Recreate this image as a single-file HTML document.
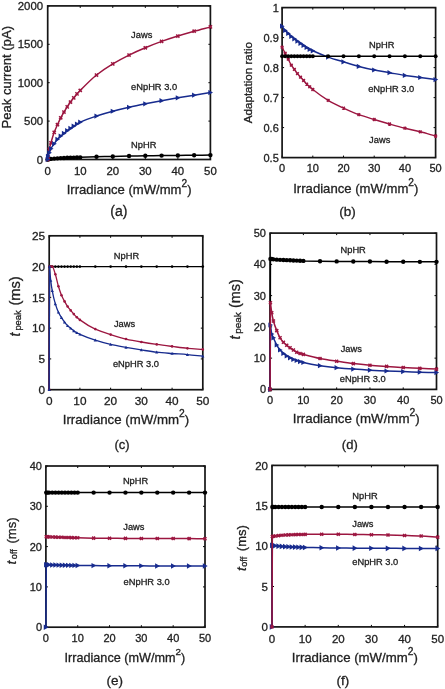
<!DOCTYPE html>
<html><head><meta charset="utf-8"><style>
html,body{margin:0;padding:0;background:#fff;overflow:hidden;}
svg{display:block;filter:blur(0.35px);}
text{font-family:"Liberation Sans", sans-serif;fill:#222;stroke:#222;stroke-width:0.3px;}
</style></head><body>
<svg width="445" height="689" viewBox="0 0 445 689">
<rect width="445" height="689" fill="#fff"/>
<path d="M47.7,159.5 V157.5 M47.7,5.9 V7.9" stroke="#000" stroke-width="1"/>
<path d="M80.24,159.5 V157.5 M80.24,5.9 V7.9" stroke="#000" stroke-width="1"/>
<path d="M112.78,159.5 V157.5 M112.78,5.9 V7.9" stroke="#000" stroke-width="1"/>
<path d="M145.32,159.5 V157.5 M145.32,5.9 V7.9" stroke="#000" stroke-width="1"/>
<path d="M177.86,159.5 V157.5 M177.86,5.9 V7.9" stroke="#000" stroke-width="1"/>
<path d="M210.4,159.5 V157.5 M210.4,5.9 V7.9" stroke="#000" stroke-width="1"/>
<path d="M47.7,159.5 H49.7 M210.4,159.5 H208.4" stroke="#000" stroke-width="1"/>
<path d="M47.7,121.1 H49.7 M210.4,121.1 H208.4" stroke="#000" stroke-width="1"/>
<path d="M47.7,82.7 H49.7 M210.4,82.7 H208.4" stroke="#000" stroke-width="1"/>
<path d="M47.7,44.3 H49.7 M210.4,44.3 H208.4" stroke="#000" stroke-width="1"/>
<path d="M47.7,5.9 H49.7 M210.4,5.9 H208.4" stroke="#000" stroke-width="1"/>
<text x="43.1" y="163.6" text-anchor="end" font-size="11.4">0</text>
<text x="43.1" y="125.2" text-anchor="end" font-size="11.4">500</text>
<text x="43.1" y="86.8" text-anchor="end" font-size="11.4">1000</text>
<text x="43.1" y="48.4" text-anchor="end" font-size="11.4">1500</text>
<text x="43.1" y="10" text-anchor="end" font-size="11.4">2000</text>
<text x="47.7" y="174.8" text-anchor="middle" font-size="11.4">0</text>
<text x="80.24" y="174.8" text-anchor="middle" font-size="11.4">10</text>
<text x="112.78" y="174.8" text-anchor="middle" font-size="11.4">20</text>
<text x="145.32" y="174.8" text-anchor="middle" font-size="11.4">30</text>
<text x="177.86" y="174.8" text-anchor="middle" font-size="11.4">40</text>
<text x="210.4" y="174.8" text-anchor="middle" font-size="11.4">50</text>
<rect x="47.7" y="5.9" width="162.7" height="153.6" fill="none" stroke="#151515" stroke-width="1.7"/>
<path d="M47.7,159.5 L48.03,159.27 C48.46,159.22 48.89,159.17 49.33,159.12 C49.87,159.05 50.41,158.95 50.95,158.89 C52.04,158.76 53.12,158.67 54.21,158.58 C55.29,158.49 56.38,158.42 57.46,158.35 C58.55,158.27 59.63,158.18 60.72,158.12 C61.8,158.06 62.89,158.02 63.97,157.96 C65.05,157.91 66.14,157.86 67.22,157.81 C68.31,157.76 69.39,157.69 70.48,157.66 C71.56,157.62 72.65,157.61 73.73,157.58 C74.82,157.55 75.9,157.46 76.99,157.43 C78.07,157.39 79.16,157.38 80.24,157.35 C85.66,157.21 91.09,156.96 96.51,156.81 C101.93,156.66 107.36,156.56 112.78,156.43 C118.2,156.3 123.63,156.14 129.05,156.04 C134.47,155.95 139.9,155.89 145.32,155.81 C150.74,155.74 156.17,155.64 161.59,155.58 C167.01,155.52 172.44,155.48 177.86,155.43 C183.28,155.38 188.71,155.33 194.13,155.28 C199.55,155.22 204.98,155.17 210.4,155.12" fill="none" stroke="#000" stroke-width="1.5" stroke-linejoin="round"/>
<circle cx="47.7" cy="159.5" r="2.2" fill="#000"/>
<circle cx="48.03" cy="159.27" r="2.2" fill="#000"/>
<circle cx="49.33" cy="159.12" r="2.2" fill="#000"/>
<circle cx="50.95" cy="158.89" r="2.2" fill="#000"/>
<circle cx="54.21" cy="158.58" r="2.2" fill="#000"/>
<circle cx="57.46" cy="158.35" r="2.2" fill="#000"/>
<circle cx="60.72" cy="158.12" r="2.2" fill="#000"/>
<circle cx="63.97" cy="157.96" r="2.2" fill="#000"/>
<circle cx="67.22" cy="157.81" r="2.2" fill="#000"/>
<circle cx="70.48" cy="157.66" r="2.2" fill="#000"/>
<circle cx="73.73" cy="157.58" r="2.2" fill="#000"/>
<circle cx="76.99" cy="157.43" r="2.2" fill="#000"/>
<circle cx="80.24" cy="157.35" r="2.2" fill="#000"/>
<circle cx="96.51" cy="156.81" r="2.2" fill="#000"/>
<circle cx="112.78" cy="156.43" r="2.2" fill="#000"/>
<circle cx="129.05" cy="156.04" r="2.2" fill="#000"/>
<circle cx="145.32" cy="155.81" r="2.2" fill="#000"/>
<circle cx="161.59" cy="155.58" r="2.2" fill="#000"/>
<circle cx="177.86" cy="155.43" r="2.2" fill="#000"/>
<circle cx="194.13" cy="155.28" r="2.2" fill="#000"/>
<circle cx="210.4" cy="155.12" r="2.2" fill="#000"/>
<path d="M47.7,159.5 L48.03,156.81 C48.46,154.28 48.89,151.24 49.33,149.21 C49.87,146.66 50.41,144.85 50.95,142.91 C52.04,139.04 53.12,135.26 54.21,132.31 C55.29,129.36 56.38,127.12 57.46,124.71 C58.55,122.3 59.63,119.89 60.72,117.8 C61.8,115.7 62.89,113.86 63.97,112.04 C65.05,110.21 66.14,108.48 67.22,106.82 C68.31,105.15 69.39,103.55 70.48,102.05 C71.56,100.56 72.65,99.18 73.73,97.83 C74.82,96.47 75.9,95.14 76.99,93.91 C78.07,92.69 79.16,91.56 80.24,90.46 C85.66,84.95 91.09,79.33 96.51,75.02 C101.93,70.71 107.36,67.17 112.78,63.88 C118.2,60.6 123.63,57.72 129.05,55.05 C134.47,52.39 139.9,50.02 145.32,47.76 C150.74,45.49 156.17,43.33 161.59,41.38 C167.01,39.44 172.44,37.69 177.86,36.01 C183.28,34.32 188.71,32.76 194.13,31.24 C199.55,29.72 204.98,28.33 210.4,26.87" fill="none" stroke="#9c1640" stroke-width="1.5" stroke-linejoin="round"/>
<path d="M46.1,157.9 L49.3,161.1 M46.1,161.1 L49.3,157.9" stroke="#9c1640" stroke-width="1.5" fill="none"/>
<path d="M46.43,155.21 L49.63,158.41 M46.43,158.41 L49.63,155.21" stroke="#9c1640" stroke-width="1.5" fill="none"/>
<path d="M47.73,147.61 L50.93,150.81 M47.73,150.81 L50.93,147.61" stroke="#9c1640" stroke-width="1.5" fill="none"/>
<path d="M49.35,141.31 L52.55,144.51 M49.35,144.51 L52.55,141.31" stroke="#9c1640" stroke-width="1.5" fill="none"/>
<path d="M52.61,130.71 L55.81,133.91 M52.61,133.91 L55.81,130.71" stroke="#9c1640" stroke-width="1.5" fill="none"/>
<path d="M55.86,123.11 L59.06,126.31 M55.86,126.31 L59.06,123.11" stroke="#9c1640" stroke-width="1.5" fill="none"/>
<path d="M59.12,116.2 L62.32,119.4 M59.12,119.4 L62.32,116.2" stroke="#9c1640" stroke-width="1.5" fill="none"/>
<path d="M62.37,110.44 L65.57,113.64 M62.37,113.64 L65.57,110.44" stroke="#9c1640" stroke-width="1.5" fill="none"/>
<path d="M65.62,105.22 L68.82,108.42 M65.62,108.42 L68.82,105.22" stroke="#9c1640" stroke-width="1.5" fill="none"/>
<path d="M68.88,100.45 L72.08,103.65 M68.88,103.65 L72.08,100.45" stroke="#9c1640" stroke-width="1.5" fill="none"/>
<path d="M72.13,96.23 L75.33,99.43 M72.13,99.43 L75.33,96.23" stroke="#9c1640" stroke-width="1.5" fill="none"/>
<path d="M75.39,92.31 L78.59,95.51 M75.39,95.51 L78.59,92.31" stroke="#9c1640" stroke-width="1.5" fill="none"/>
<path d="M78.64,88.86 L81.84,92.06 M78.64,92.06 L81.84,88.86" stroke="#9c1640" stroke-width="1.5" fill="none"/>
<path d="M94.91,73.42 L98.11,76.62 M94.91,76.62 L98.11,73.42" stroke="#9c1640" stroke-width="1.5" fill="none"/>
<path d="M111.18,62.28 L114.38,65.48 M111.18,65.48 L114.38,62.28" stroke="#9c1640" stroke-width="1.5" fill="none"/>
<path d="M127.45,53.45 L130.65,56.65 M127.45,56.65 L130.65,53.45" stroke="#9c1640" stroke-width="1.5" fill="none"/>
<path d="M143.72,46.16 L146.92,49.36 M143.72,49.36 L146.92,46.16" stroke="#9c1640" stroke-width="1.5" fill="none"/>
<path d="M159.99,39.78 L163.19,42.98 M159.99,42.98 L163.19,39.78" stroke="#9c1640" stroke-width="1.5" fill="none"/>
<path d="M176.26,34.41 L179.46,37.61 M176.26,37.61 L179.46,34.41" stroke="#9c1640" stroke-width="1.5" fill="none"/>
<path d="M192.53,29.64 L195.73,32.84 M192.53,32.84 L195.73,29.64" stroke="#9c1640" stroke-width="1.5" fill="none"/>
<path d="M208.8,25.27 L212,28.47 M208.8,28.47 L212,25.27" stroke="#9c1640" stroke-width="1.5" fill="none"/>
<path d="M47.7,159.5 L48.03,156.27 C48.46,155.12 48.89,153.95 49.33,152.82 C49.87,151.41 50.41,149.72 50.95,148.67 C52.04,146.57 53.12,145.39 54.21,143.83 C55.29,142.27 56.38,140.56 57.46,139.3 C58.55,138.05 59.63,137.05 60.72,136.08 C61.8,135.1 62.89,134.28 63.97,133.39 C65.05,132.49 66.14,131.51 67.22,130.7 C68.31,129.89 69.39,129.23 70.48,128.47 C71.56,127.72 72.65,126.91 73.73,126.17 C74.82,125.43 75.9,124.68 76.99,124.02 C78.07,123.36 79.16,122.69 80.24,122.18 C85.66,119.6 91.09,117.82 96.51,116.03 C101.93,114.24 107.36,112.72 112.78,111.27 C118.2,109.82 123.63,108.51 129.05,107.28 C134.47,106.04 139.9,104.92 145.32,103.82 C150.74,102.72 156.17,101.67 161.59,100.67 C167.01,99.68 172.44,98.75 177.86,97.83 C183.28,96.91 188.71,96.02 194.13,95.14 C199.55,94.26 204.98,93.4 210.4,92.53" fill="none" stroke="#172b8e" stroke-width="1.5" stroke-linejoin="round"/>
<path d="M50.3,159.5 L45.62,156.9 L45.62,162.1 Z" fill="#172b8e"/>
<path d="M50.63,156.27 L45.95,153.67 L45.95,158.87 Z" fill="#172b8e"/>
<path d="M51.93,152.82 L47.25,150.22 L47.25,155.42 Z" fill="#172b8e"/>
<path d="M53.55,148.67 L48.87,146.07 L48.87,151.27 Z" fill="#172b8e"/>
<path d="M56.81,143.83 L52.13,141.23 L52.13,146.43 Z" fill="#172b8e"/>
<path d="M60.06,139.3 L55.38,136.7 L55.38,141.9 Z" fill="#172b8e"/>
<path d="M63.32,136.08 L58.64,133.48 L58.64,138.68 Z" fill="#172b8e"/>
<path d="M66.57,133.39 L61.89,130.79 L61.89,135.99 Z" fill="#172b8e"/>
<path d="M69.82,130.7 L65.14,128.1 L65.14,133.3 Z" fill="#172b8e"/>
<path d="M73.08,128.47 L68.4,125.87 L68.4,131.07 Z" fill="#172b8e"/>
<path d="M76.33,126.17 L71.65,123.57 L71.65,128.77 Z" fill="#172b8e"/>
<path d="M79.59,124.02 L74.91,121.42 L74.91,126.62 Z" fill="#172b8e"/>
<path d="M82.84,122.18 L78.16,119.58 L78.16,124.78 Z" fill="#172b8e"/>
<path d="M99.11,116.03 L94.43,113.43 L94.43,118.63 Z" fill="#172b8e"/>
<path d="M115.38,111.27 L110.7,108.67 L110.7,113.87 Z" fill="#172b8e"/>
<path d="M131.65,107.28 L126.97,104.68 L126.97,109.88 Z" fill="#172b8e"/>
<path d="M147.92,103.82 L143.24,101.22 L143.24,106.42 Z" fill="#172b8e"/>
<path d="M164.19,100.67 L159.51,98.07 L159.51,103.27 Z" fill="#172b8e"/>
<path d="M180.46,97.83 L175.78,95.23 L175.78,100.43 Z" fill="#172b8e"/>
<path d="M196.73,95.14 L192.05,92.54 L192.05,97.74 Z" fill="#172b8e"/>
<path d="M213,92.53 L208.32,89.93 L208.32,95.13 Z" fill="#172b8e"/>
<text x="131.1" y="38" font-size="9.3" text-anchor="start">Jaws</text>
<text x="131.1" y="90.1" font-size="9.3" text-anchor="start">eNpHR 3.0</text>
<text x="131.1" y="147.8" font-size="9.3" text-anchor="start">NpHR</text>
<text x="66.73" y="193.7" font-size="13" textLength="124.78" lengthAdjust="spacingAndGlyphs">Irradiance (mW/mm<tspan font-size="10.1" dy="-7.0">2</tspan><tspan dy="7.0">)</tspan></text>
<text x="118.9" y="216.3" font-size="14" text-anchor="middle">(a)</text>
<text transform="translate(11.1,128.6) rotate(-90)" font-size="13" textLength="102.6" lengthAdjust="spacingAndGlyphs" text-anchor="start">Peak current (pA)</text>
<path d="M282.1,157.6 V155.6 M282.1,7.6 V9.6" stroke="#000" stroke-width="1"/>
<path d="M312.8,157.6 V155.6 M312.8,7.6 V9.6" stroke="#000" stroke-width="1"/>
<path d="M343.5,157.6 V155.6 M343.5,7.6 V9.6" stroke="#000" stroke-width="1"/>
<path d="M374.2,157.6 V155.6 M374.2,7.6 V9.6" stroke="#000" stroke-width="1"/>
<path d="M404.9,157.6 V155.6 M404.9,7.6 V9.6" stroke="#000" stroke-width="1"/>
<path d="M435.6,157.6 V155.6 M435.6,7.6 V9.6" stroke="#000" stroke-width="1"/>
<path d="M282.1,157.6 H284.1 M435.6,157.6 H433.6" stroke="#000" stroke-width="1"/>
<path d="M282.1,127.6 H284.1 M435.6,127.6 H433.6" stroke="#000" stroke-width="1"/>
<path d="M282.1,97.6 H284.1 M435.6,97.6 H433.6" stroke="#000" stroke-width="1"/>
<path d="M282.1,67.6 H284.1 M435.6,67.6 H433.6" stroke="#000" stroke-width="1"/>
<path d="M282.1,37.6 H284.1 M435.6,37.6 H433.6" stroke="#000" stroke-width="1"/>
<path d="M282.1,7.6 H284.1 M435.6,7.6 H433.6" stroke="#000" stroke-width="1"/>
<text x="278.8" y="161.56" text-anchor="end" font-size="11">0.5</text>
<text x="278.8" y="131.56" text-anchor="end" font-size="11">0.6</text>
<text x="278.8" y="101.56" text-anchor="end" font-size="11">0.7</text>
<text x="278.8" y="71.56" text-anchor="end" font-size="11">0.8</text>
<text x="278.8" y="41.56" text-anchor="end" font-size="11">0.9</text>
<text x="278.8" y="11.56" text-anchor="end" font-size="11">1</text>
<text x="282.1" y="172" text-anchor="middle" font-size="11">0</text>
<text x="312.8" y="172" text-anchor="middle" font-size="11">10</text>
<text x="343.5" y="172" text-anchor="middle" font-size="11">20</text>
<text x="374.2" y="172" text-anchor="middle" font-size="11">30</text>
<text x="404.9" y="172" text-anchor="middle" font-size="11">40</text>
<text x="435.6" y="172" text-anchor="middle" font-size="11">50</text>
<rect x="282.1" y="7.6" width="153.5" height="150" fill="none" stroke="#151515" stroke-width="1.7"/>
<path d="M282.1,26.2 C283.12,27.6 284.15,29.23 285.17,30.4 C286.19,31.57 287.22,32.4 288.24,33.4 C289.26,34.4 290.29,35.51 291.31,36.4 C292.33,37.29 293.36,38 294.38,38.8 C295.4,39.6 296.43,40.45 297.45,41.2 C298.47,41.95 299.5,42.6 300.52,43.3 C301.54,44 302.57,44.7 303.59,45.4 C304.61,46.1 305.64,46.85 306.66,47.5 C307.68,48.15 308.71,48.75 309.73,49.3 C310.75,49.85 311.78,50.33 312.8,50.8 C317.92,53.13 323.03,55.28 328.15,57.1 C333.27,58.92 338.38,60.35 343.5,61.9 C348.62,63.45 353.73,65.07 358.85,66.4 C363.97,67.73 369.08,68.97 374.2,70 C379.32,71.03 384.43,71.8 389.55,72.7 C394.67,73.6 399.78,74.61 404.9,75.4 C410.02,76.19 415.13,76.8 420.25,77.5 C425.37,78.2 430.48,78.9 435.6,79.6" fill="none" stroke="#172b8e" stroke-width="1.5" stroke-linejoin="round"/>
<path d="M284.7,26.2 L280.02,23.6 L280.02,28.8 Z" fill="#172b8e"/>
<path d="M287.77,30.4 L283.09,27.8 L283.09,33 Z" fill="#172b8e"/>
<path d="M290.84,33.4 L286.16,30.8 L286.16,36 Z" fill="#172b8e"/>
<path d="M293.91,36.4 L289.23,33.8 L289.23,39 Z" fill="#172b8e"/>
<path d="M296.98,38.8 L292.3,36.2 L292.3,41.4 Z" fill="#172b8e"/>
<path d="M300.05,41.2 L295.37,38.6 L295.37,43.8 Z" fill="#172b8e"/>
<path d="M303.12,43.3 L298.44,40.7 L298.44,45.9 Z" fill="#172b8e"/>
<path d="M306.19,45.4 L301.51,42.8 L301.51,48 Z" fill="#172b8e"/>
<path d="M309.26,47.5 L304.58,44.9 L304.58,50.1 Z" fill="#172b8e"/>
<path d="M312.33,49.3 L307.65,46.7 L307.65,51.9 Z" fill="#172b8e"/>
<path d="M315.4,50.8 L310.72,48.2 L310.72,53.4 Z" fill="#172b8e"/>
<path d="M330.75,57.1 L326.07,54.5 L326.07,59.7 Z" fill="#172b8e"/>
<path d="M346.1,61.9 L341.42,59.3 L341.42,64.5 Z" fill="#172b8e"/>
<path d="M361.45,66.4 L356.77,63.8 L356.77,69 Z" fill="#172b8e"/>
<path d="M376.8,70 L372.12,67.4 L372.12,72.6 Z" fill="#172b8e"/>
<path d="M392.15,72.7 L387.47,70.1 L387.47,75.3 Z" fill="#172b8e"/>
<path d="M407.5,75.4 L402.82,72.8 L402.82,78 Z" fill="#172b8e"/>
<path d="M422.85,77.5 L418.17,74.9 L418.17,80.1 Z" fill="#172b8e"/>
<path d="M438.2,79.6 L433.52,77 L433.52,82.2 Z" fill="#172b8e"/>
<path d="M282.1,47.2 C283.12,49.2 284.15,51.2 285.17,53.2 C286.19,55.2 287.22,57.2 288.24,59.2 C289.26,61.2 290.29,63.55 291.31,65.2 C292.33,66.85 293.36,68 294.38,69.4 C295.4,70.8 296.43,72.31 297.45,73.6 C298.47,74.89 299.5,76.05 300.52,77.2 C301.54,78.35 302.57,79.35 303.59,80.5 C304.61,81.65 305.64,83.07 306.66,84.1 C307.68,85.13 308.71,85.9 309.73,86.8 C310.75,87.7 311.78,88.68 312.8,89.5 C317.92,93.6 323.03,97.28 328.15,100.3 C333.27,103.32 338.38,105.72 343.5,108.1 C348.62,110.48 353.73,112.85 358.85,114.7 C363.97,116.55 369.08,117.95 374.2,119.5 C379.32,121.05 384.43,122.55 389.55,124 C394.67,125.45 399.78,126.91 404.9,128.2 C410.02,129.49 415.13,130.51 420.25,131.8 C425.37,133.09 430.48,134.6 435.6,136" fill="none" stroke="#9c1640" stroke-width="1.4" stroke-linejoin="round"/>
<path d="M280.75,45.85 L283.45,48.55 M280.75,48.55 L283.45,45.85" stroke="#9c1640" stroke-width="1.5" fill="none"/>
<path d="M283.82,51.85 L286.52,54.55 M283.82,54.55 L286.52,51.85" stroke="#9c1640" stroke-width="1.5" fill="none"/>
<path d="M286.89,57.85 L289.59,60.55 M286.89,60.55 L289.59,57.85" stroke="#9c1640" stroke-width="1.5" fill="none"/>
<path d="M289.96,63.85 L292.66,66.55 M289.96,66.55 L292.66,63.85" stroke="#9c1640" stroke-width="1.5" fill="none"/>
<path d="M293.03,68.05 L295.73,70.75 M293.03,70.75 L295.73,68.05" stroke="#9c1640" stroke-width="1.5" fill="none"/>
<path d="M296.1,72.25 L298.8,74.95 M296.1,74.95 L298.8,72.25" stroke="#9c1640" stroke-width="1.5" fill="none"/>
<path d="M299.17,75.85 L301.87,78.55 M299.17,78.55 L301.87,75.85" stroke="#9c1640" stroke-width="1.5" fill="none"/>
<path d="M302.24,79.15 L304.94,81.85 M302.24,81.85 L304.94,79.15" stroke="#9c1640" stroke-width="1.5" fill="none"/>
<path d="M305.31,82.75 L308.01,85.45 M305.31,85.45 L308.01,82.75" stroke="#9c1640" stroke-width="1.5" fill="none"/>
<path d="M308.38,85.45 L311.08,88.15 M308.38,88.15 L311.08,85.45" stroke="#9c1640" stroke-width="1.5" fill="none"/>
<path d="M311.45,88.15 L314.15,90.85 M311.45,90.85 L314.15,88.15" stroke="#9c1640" stroke-width="1.5" fill="none"/>
<path d="M326.8,98.95 L329.5,101.65 M326.8,101.65 L329.5,98.95" stroke="#9c1640" stroke-width="1.5" fill="none"/>
<path d="M342.15,106.75 L344.85,109.45 M342.15,109.45 L344.85,106.75" stroke="#9c1640" stroke-width="1.5" fill="none"/>
<path d="M357.5,113.35 L360.2,116.05 M357.5,116.05 L360.2,113.35" stroke="#9c1640" stroke-width="1.5" fill="none"/>
<path d="M372.85,118.15 L375.55,120.85 M372.85,120.85 L375.55,118.15" stroke="#9c1640" stroke-width="1.5" fill="none"/>
<path d="M388.2,122.65 L390.9,125.35 M388.2,125.35 L390.9,122.65" stroke="#9c1640" stroke-width="1.5" fill="none"/>
<path d="M403.55,126.85 L406.25,129.55 M403.55,129.55 L406.25,126.85" stroke="#9c1640" stroke-width="1.5" fill="none"/>
<path d="M418.9,130.45 L421.6,133.15 M418.9,133.15 L421.6,130.45" stroke="#9c1640" stroke-width="1.5" fill="none"/>
<path d="M434.25,134.65 L436.95,137.35 M434.25,137.35 L436.95,134.65" stroke="#9c1640" stroke-width="1.5" fill="none"/>
<path d="M282.1,56.2 C283.12,56.2 284.15,56.2 285.17,56.2 C286.19,56.2 287.22,56.2 288.24,56.2 C289.26,56.2 290.29,56.2 291.31,56.2 C292.33,56.2 293.36,56.2 294.38,56.2 C295.4,56.2 296.43,56.2 297.45,56.2 C298.47,56.2 299.5,56.2 300.52,56.2 C301.54,56.2 302.57,56.2 303.59,56.2 C304.61,56.2 305.64,56.2 306.66,56.2 C307.68,56.2 308.71,56.2 309.73,56.2 C310.75,56.2 311.78,56.2 312.8,56.2 C317.92,56.2 323.03,56.2 328.15,56.2 C333.27,56.2 338.38,56.2 343.5,56.2 C348.62,56.2 353.73,56.2 358.85,56.2 C363.97,56.2 369.08,56.2 374.2,56.2 C379.32,56.2 384.43,56.2 389.55,56.2 C394.67,56.2 399.78,56.2 404.9,56.2 C410.02,56.2 415.13,56.2 420.25,56.2 C425.37,56.2 430.48,56.2 435.6,56.2" fill="none" stroke="#000" stroke-width="1.5" stroke-linejoin="round"/>
<circle cx="282.1" cy="56.2" r="2.0" fill="#000"/>
<circle cx="285.17" cy="56.2" r="2.0" fill="#000"/>
<circle cx="288.24" cy="56.2" r="2.0" fill="#000"/>
<circle cx="291.31" cy="56.2" r="2.0" fill="#000"/>
<circle cx="294.38" cy="56.2" r="2.0" fill="#000"/>
<circle cx="297.45" cy="56.2" r="2.0" fill="#000"/>
<circle cx="300.52" cy="56.2" r="2.0" fill="#000"/>
<circle cx="303.59" cy="56.2" r="2.0" fill="#000"/>
<circle cx="306.66" cy="56.2" r="2.0" fill="#000"/>
<circle cx="309.73" cy="56.2" r="2.0" fill="#000"/>
<circle cx="312.8" cy="56.2" r="2.0" fill="#000"/>
<circle cx="328.15" cy="56.2" r="2.0" fill="#000"/>
<circle cx="343.5" cy="56.2" r="2.0" fill="#000"/>
<circle cx="358.85" cy="56.2" r="2.0" fill="#000"/>
<circle cx="374.2" cy="56.2" r="2.0" fill="#000"/>
<circle cx="389.55" cy="56.2" r="2.0" fill="#000"/>
<circle cx="404.9" cy="56.2" r="2.0" fill="#000"/>
<circle cx="420.25" cy="56.2" r="2.0" fill="#000"/>
<circle cx="435.6" cy="56.2" r="2.0" fill="#000"/>
<text x="369.1" y="48.3" font-size="9.3" text-anchor="start">NpHR</text>
<text x="368.2" y="92.3" font-size="9.3" text-anchor="start">eNpHR 3.0</text>
<text x="369.1" y="142.5" font-size="9.3" text-anchor="start">Jaws</text>
<text x="293.23" y="193.1" font-size="13" textLength="125.18" lengthAdjust="spacingAndGlyphs">Irradiance (mW/mm<tspan font-size="10.1" dy="-7.0">2</tspan><tspan dy="7.0">)</tspan></text>
<text x="347.5" y="216" font-size="13.5" text-anchor="middle">(b)</text>
<text transform="translate(252.4,123.2) rotate(-90)" font-size="11.6">Adaptation ratio</text>
<path d="M49.2,389.7 V387.7 M49.2,235.8 V237.8" stroke="#000" stroke-width="1"/>
<path d="M79.92,389.7 V387.7 M79.92,235.8 V237.8" stroke="#000" stroke-width="1"/>
<path d="M110.64,389.7 V387.7 M110.64,235.8 V237.8" stroke="#000" stroke-width="1"/>
<path d="M141.36,389.7 V387.7 M141.36,235.8 V237.8" stroke="#000" stroke-width="1"/>
<path d="M172.08,389.7 V387.7 M172.08,235.8 V237.8" stroke="#000" stroke-width="1"/>
<path d="M202.8,389.7 V387.7 M202.8,235.8 V237.8" stroke="#000" stroke-width="1"/>
<path d="M49.2,389.7 H51.2 M202.8,389.7 H200.8" stroke="#000" stroke-width="1"/>
<path d="M49.2,358.92 H51.2 M202.8,358.92 H200.8" stroke="#000" stroke-width="1"/>
<path d="M49.2,328.14 H51.2 M202.8,328.14 H200.8" stroke="#000" stroke-width="1"/>
<path d="M49.2,297.36 H51.2 M202.8,297.36 H200.8" stroke="#000" stroke-width="1"/>
<path d="M49.2,266.58 H51.2 M202.8,266.58 H200.8" stroke="#000" stroke-width="1"/>
<path d="M49.2,235.8 H51.2 M202.8,235.8 H200.8" stroke="#000" stroke-width="1"/>
<text x="45" y="393.95" text-anchor="end" font-size="11.8">0</text>
<text x="45" y="363.17" text-anchor="end" font-size="11.8">5</text>
<text x="45" y="332.39" text-anchor="end" font-size="11.8">10</text>
<text x="45" y="301.61" text-anchor="end" font-size="11.8">15</text>
<text x="45" y="270.83" text-anchor="end" font-size="11.8">20</text>
<text x="45" y="240.05" text-anchor="end" font-size="11.8">25</text>
<text x="49.2" y="405.2" text-anchor="middle" font-size="11.8">0</text>
<text x="79.92" y="405.2" text-anchor="middle" font-size="11.8">10</text>
<text x="110.64" y="405.2" text-anchor="middle" font-size="11.8">20</text>
<text x="141.36" y="405.2" text-anchor="middle" font-size="11.8">30</text>
<text x="172.08" y="405.2" text-anchor="middle" font-size="11.8">40</text>
<text x="202.8" y="405.2" text-anchor="middle" font-size="11.8">50</text>
<rect x="49.2" y="235.8" width="153.6" height="153.9" fill="none" stroke="#151515" stroke-width="1.7"/>
<path d="M49.2,389.7 L49.51,266.58 L50.74,266.58 L52.27,266.58 L55.34,266.58 L58.42,266.58 L61.49,266.58 L64.56,266.58 L67.63,266.58 L70.7,266.58 L73.78,266.58 L76.85,266.58 L79.92,266.58 L95.28,266.58 L110.64,266.58 L126,266.58 L141.36,266.58 L156.72,266.58 L172.08,266.58 L187.44,266.58 L202.8,266.58" fill="none" stroke="#000" stroke-width="1.3" stroke-linejoin="round"/>
<circle cx="49.2" cy="389.7" r="1.3" fill="#000"/>
<circle cx="49.51" cy="266.58" r="1.3" fill="#000"/>
<circle cx="50.74" cy="266.58" r="1.3" fill="#000"/>
<circle cx="52.27" cy="266.58" r="1.3" fill="#000"/>
<circle cx="55.34" cy="266.58" r="1.3" fill="#000"/>
<circle cx="58.42" cy="266.58" r="1.3" fill="#000"/>
<circle cx="61.49" cy="266.58" r="1.3" fill="#000"/>
<circle cx="64.56" cy="266.58" r="1.3" fill="#000"/>
<circle cx="67.63" cy="266.58" r="1.3" fill="#000"/>
<circle cx="70.7" cy="266.58" r="1.3" fill="#000"/>
<circle cx="73.78" cy="266.58" r="1.3" fill="#000"/>
<circle cx="76.85" cy="266.58" r="1.3" fill="#000"/>
<circle cx="79.92" cy="266.58" r="1.3" fill="#000"/>
<circle cx="95.28" cy="266.58" r="1.3" fill="#000"/>
<circle cx="110.64" cy="266.58" r="1.3" fill="#000"/>
<circle cx="126" cy="266.58" r="1.3" fill="#000"/>
<circle cx="141.36" cy="266.58" r="1.3" fill="#000"/>
<circle cx="156.72" cy="266.58" r="1.3" fill="#000"/>
<circle cx="172.08" cy="266.58" r="1.3" fill="#000"/>
<circle cx="187.44" cy="266.58" r="1.3" fill="#000"/>
<circle cx="202.8" cy="266.58" r="1.3" fill="#000"/>
<path d="M49.2,389.7 L49.51,266.58 C49.92,266.58 50.33,266.58 50.74,266.58 C51.25,266.58 51.76,266.58 52.27,266.58 C53.3,266.58 54.32,271.15 55.34,274.27 C56.37,277.4 57.39,282.87 58.42,286.28 C59.44,289.69 60.46,292.76 61.49,295.21 C62.51,297.65 63.54,299.55 64.56,301.42 C65.58,303.29 66.61,305.06 67.63,306.53 C68.66,308 69.68,309.15 70.7,310.41 C71.73,311.67 72.75,312.96 73.78,314.1 C74.8,315.25 75.82,316.35 76.85,317.31 C77.87,318.26 78.9,319.15 79.92,319.89 C85.04,323.62 90.16,326.83 95.28,329.12 C100.4,331.42 105.52,332.97 110.64,334.6 C115.76,336.24 120.88,337.85 126,339.04 C131.12,340.22 136.24,341.11 141.36,341.99 C146.48,342.87 151.6,343.66 156.72,344.39 C161.84,345.13 166.96,345.77 172.08,346.42 C177.2,347.08 182.32,347.88 187.44,348.33 C192.56,348.78 197.68,349.03 202.8,349.38" fill="none" stroke="#9c1640" stroke-width="1.3" stroke-linejoin="round"/>
<circle cx="49.2" cy="389.7" r="1.3" fill="#9c1640"/>
<circle cx="49.51" cy="266.58" r="1.3" fill="#9c1640"/>
<circle cx="50.74" cy="266.58" r="1.3" fill="#9c1640"/>
<circle cx="52.27" cy="266.58" r="1.3" fill="#9c1640"/>
<circle cx="55.34" cy="274.27" r="1.3" fill="#9c1640"/>
<circle cx="58.42" cy="286.28" r="1.3" fill="#9c1640"/>
<circle cx="61.49" cy="295.21" r="1.3" fill="#9c1640"/>
<circle cx="64.56" cy="301.42" r="1.3" fill="#9c1640"/>
<circle cx="67.63" cy="306.53" r="1.3" fill="#9c1640"/>
<circle cx="70.7" cy="310.41" r="1.3" fill="#9c1640"/>
<circle cx="73.78" cy="314.1" r="1.3" fill="#9c1640"/>
<circle cx="76.85" cy="317.31" r="1.3" fill="#9c1640"/>
<circle cx="79.92" cy="319.89" r="1.3" fill="#9c1640"/>
<circle cx="95.28" cy="329.12" r="1.3" fill="#9c1640"/>
<circle cx="110.64" cy="334.6" r="1.3" fill="#9c1640"/>
<circle cx="126" cy="339.04" r="1.3" fill="#9c1640"/>
<circle cx="141.36" cy="341.99" r="1.3" fill="#9c1640"/>
<circle cx="156.72" cy="344.39" r="1.3" fill="#9c1640"/>
<circle cx="172.08" cy="346.42" r="1.3" fill="#9c1640"/>
<circle cx="187.44" cy="348.33" r="1.3" fill="#9c1640"/>
<circle cx="202.8" cy="349.38" r="1.3" fill="#9c1640"/>
<path d="M49.2,389.7 L49.51,266.58 C49.92,271.24 50.33,277.08 50.74,280.55 C51.25,284.89 51.76,288.04 52.27,290.77 C53.3,296.23 54.32,300.46 55.34,303.89 C56.37,307.31 57.39,310.14 58.42,312.32 C59.44,314.5 60.46,316.06 61.49,317.67 C62.51,319.29 63.54,320.78 64.56,322.11 C65.58,323.44 66.61,324.73 67.63,325.74 C68.66,326.75 69.68,327.47 70.7,328.32 C71.73,329.18 72.75,330.12 73.78,330.85 C74.8,331.57 75.82,332.19 76.85,332.76 C77.87,333.32 78.9,333.84 79.92,334.3 C85.04,336.58 90.16,338.49 95.28,340.14 C100.4,341.8 105.52,343.3 110.64,344.45 C115.76,345.61 120.88,346.44 126,347.35 C131.12,348.26 136.24,349.12 141.36,349.93 C146.48,350.74 151.6,351.66 156.72,352.21 C161.84,352.76 166.96,353.1 172.08,353.5 C177.2,353.9 182.32,354.17 187.44,354.61 C192.56,355.05 197.68,355.68 202.8,356.21" fill="none" stroke="#172b8e" stroke-width="1.3" stroke-linejoin="round"/>
<path d="M49.2,388.1 L47.6,390.98 L50.8,390.98 Z" fill="#172b8e"/>
<path d="M49.51,264.98 L47.91,267.86 L51.11,267.86 Z" fill="#172b8e"/>
<path d="M50.74,278.95 L49.14,281.83 L52.34,281.83 Z" fill="#172b8e"/>
<path d="M52.27,289.17 L50.67,292.05 L53.87,292.05 Z" fill="#172b8e"/>
<path d="M55.34,302.29 L53.74,305.17 L56.94,305.17 Z" fill="#172b8e"/>
<path d="M58.42,310.72 L56.82,313.6 L60.02,313.6 Z" fill="#172b8e"/>
<path d="M61.49,316.07 L59.89,318.95 L63.09,318.95 Z" fill="#172b8e"/>
<path d="M64.56,320.51 L62.96,323.39 L66.16,323.39 Z" fill="#172b8e"/>
<path d="M67.63,324.14 L66.03,327.02 L69.23,327.02 Z" fill="#172b8e"/>
<path d="M70.7,326.72 L69.1,329.6 L72.3,329.6 Z" fill="#172b8e"/>
<path d="M73.78,329.25 L72.18,332.13 L75.38,332.13 Z" fill="#172b8e"/>
<path d="M76.85,331.16 L75.25,334.04 L78.45,334.04 Z" fill="#172b8e"/>
<path d="M79.92,332.7 L78.32,335.58 L81.52,335.58 Z" fill="#172b8e"/>
<path d="M95.28,338.54 L93.68,341.42 L96.88,341.42 Z" fill="#172b8e"/>
<path d="M110.64,342.85 L109.04,345.73 L112.24,345.73 Z" fill="#172b8e"/>
<path d="M126,345.75 L124.4,348.63 L127.6,348.63 Z" fill="#172b8e"/>
<path d="M141.36,348.33 L139.76,351.21 L142.96,351.21 Z" fill="#172b8e"/>
<path d="M156.72,350.61 L155.12,353.49 L158.32,353.49 Z" fill="#172b8e"/>
<path d="M172.08,351.9 L170.48,354.78 L173.68,354.78 Z" fill="#172b8e"/>
<path d="M187.44,353.01 L185.84,355.89 L189.04,355.89 Z" fill="#172b8e"/>
<path d="M202.8,354.61 L201.2,357.49 L204.4,357.49 Z" fill="#172b8e"/>
<text x="113.8" y="258.9" font-size="9.3" text-anchor="start">NpHR</text>
<text x="113.9" y="327.3" font-size="9.3" text-anchor="start">Jaws</text>
<text x="112.9" y="366.5" font-size="9.3" text-anchor="start">eNpHR 3.0</text>
<text x="62.73" y="423.9" font-size="13" textLength="126.38" lengthAdjust="spacingAndGlyphs">Irradiance (mW/mm<tspan font-size="10.1" dy="-7.0">2</tspan><tspan dy="7.0">)</tspan></text>
<text x="122.1" y="448.7" font-size="13" text-anchor="middle">(c)</text>
<text transform="translate(20.3,336.4) rotate(-90)" font-size="14" font-style="italic" text-anchor="start">t</text>
<text transform="translate(21.1,330.6) rotate(-90)" font-size="9.5" textLength="20.3" lengthAdjust="spacingAndGlyphs" text-anchor="start">peak</text>
<text transform="translate(20.3,305.6) rotate(-90)" font-size="14" textLength="29.3" lengthAdjust="spacingAndGlyphs" text-anchor="start">(ms)</text>
<path d="M270.1,389.4 V387.4 M270.1,233.1 V235.1" stroke="#000" stroke-width="1"/>
<path d="M303.38,389.4 V387.4 M303.38,233.1 V235.1" stroke="#000" stroke-width="1"/>
<path d="M336.66,389.4 V387.4 M336.66,233.1 V235.1" stroke="#000" stroke-width="1"/>
<path d="M369.94,389.4 V387.4 M369.94,233.1 V235.1" stroke="#000" stroke-width="1"/>
<path d="M403.22,389.4 V387.4 M403.22,233.1 V235.1" stroke="#000" stroke-width="1"/>
<path d="M436.5,389.4 V387.4 M436.5,233.1 V235.1" stroke="#000" stroke-width="1"/>
<path d="M270.1,389.4 H272.1 M436.5,389.4 H434.5" stroke="#000" stroke-width="1"/>
<path d="M270.1,358.14 H272.1 M436.5,358.14 H434.5" stroke="#000" stroke-width="1"/>
<path d="M270.1,326.88 H272.1 M436.5,326.88 H434.5" stroke="#000" stroke-width="1"/>
<path d="M270.1,295.62 H272.1 M436.5,295.62 H434.5" stroke="#000" stroke-width="1"/>
<path d="M270.1,264.36 H272.1 M436.5,264.36 H434.5" stroke="#000" stroke-width="1"/>
<path d="M270.1,233.1 H272.1 M436.5,233.1 H434.5" stroke="#000" stroke-width="1"/>
<text x="266" y="393.36" text-anchor="end" font-size="11">0</text>
<text x="266" y="362.1" text-anchor="end" font-size="11">10</text>
<text x="266" y="330.84" text-anchor="end" font-size="11">20</text>
<text x="266" y="299.58" text-anchor="end" font-size="11">30</text>
<text x="266" y="268.32" text-anchor="end" font-size="11">40</text>
<text x="266" y="237.06" text-anchor="end" font-size="11">50</text>
<text x="270.1" y="404" text-anchor="middle" font-size="11">0</text>
<text x="303.38" y="404" text-anchor="middle" font-size="11">10</text>
<text x="336.66" y="404" text-anchor="middle" font-size="11">20</text>
<text x="369.94" y="404" text-anchor="middle" font-size="11">30</text>
<text x="403.22" y="404" text-anchor="middle" font-size="11">40</text>
<text x="436.5" y="404" text-anchor="middle" font-size="11">50</text>
<rect x="270.1" y="233.1" width="166.4" height="156.3" fill="none" stroke="#151515" stroke-width="1.7"/>
<path d="M270.1,389.4 L270.43,258.89 L271.76,259.05 L273.43,259.36 L276.76,259.67 L280.08,259.83 L283.41,259.98 L286.74,260.14 L290.07,260.3 L293.4,260.45 L296.72,260.61 L300.05,260.77 L303.38,260.92 L320.02,261.23 L336.66,261.39 L353.3,261.55 L369.94,261.55 L386.58,261.7 L403.22,261.7 L419.86,261.86 L436.5,261.86" fill="none" stroke="#000" stroke-width="1.5" stroke-linejoin="round"/>
<circle cx="270.1" cy="389.4" r="2.2" fill="#000"/>
<circle cx="270.43" cy="258.89" r="2.2" fill="#000"/>
<circle cx="271.76" cy="259.05" r="2.2" fill="#000"/>
<circle cx="273.43" cy="259.36" r="2.2" fill="#000"/>
<circle cx="276.76" cy="259.67" r="2.2" fill="#000"/>
<circle cx="280.08" cy="259.83" r="2.2" fill="#000"/>
<circle cx="283.41" cy="259.98" r="2.2" fill="#000"/>
<circle cx="286.74" cy="260.14" r="2.2" fill="#000"/>
<circle cx="290.07" cy="260.3" r="2.2" fill="#000"/>
<circle cx="293.4" cy="260.45" r="2.2" fill="#000"/>
<circle cx="296.72" cy="260.61" r="2.2" fill="#000"/>
<circle cx="300.05" cy="260.77" r="2.2" fill="#000"/>
<circle cx="303.38" cy="260.92" r="2.2" fill="#000"/>
<circle cx="320.02" cy="261.23" r="2.2" fill="#000"/>
<circle cx="336.66" cy="261.39" r="2.2" fill="#000"/>
<circle cx="353.3" cy="261.55" r="2.2" fill="#000"/>
<circle cx="369.94" cy="261.55" r="2.2" fill="#000"/>
<circle cx="386.58" cy="261.7" r="2.2" fill="#000"/>
<circle cx="403.22" cy="261.7" r="2.2" fill="#000"/>
<circle cx="419.86" cy="261.86" r="2.2" fill="#000"/>
<circle cx="436.5" cy="261.86" r="2.2" fill="#000"/>
<path d="M270.1,389.4 L270.43,325 C270.88,328.03 271.32,332.54 271.76,334.07 C272.32,335.98 272.87,336.59 273.43,337.82 C274.54,340.27 275.65,343.04 276.76,345.01 C277.87,346.98 278.97,348.65 280.08,350.01 C281.19,351.37 282.3,352.49 283.41,353.45 C284.52,354.42 285.63,355.24 286.74,355.95 C287.85,356.67 288.96,357.26 290.07,357.83 C291.18,358.4 292.29,358.96 293.4,359.39 C294.51,359.82 295.61,360.12 296.72,360.48 C297.83,360.85 298.94,361.24 300.05,361.58 C301.16,361.92 302.27,362.25 303.38,362.52 C308.93,363.82 314.47,364.82 320.02,365.64 C325.57,366.46 331.11,367.11 336.66,367.67 C342.21,368.24 347.75,368.7 353.3,369.11 C358.85,369.53 364.39,369.9 369.94,370.21 C375.49,370.51 381.03,370.76 386.58,370.99 C392.13,371.21 397.67,371.39 403.22,371.58 C408.77,371.77 414.31,371.97 419.86,372.14 C425.41,372.31 430.95,372.46 436.5,372.61" fill="none" stroke="#172b8e" stroke-width="1.5" stroke-linejoin="round"/>
<path d="M272.7,389.4 L268.02,386.8 L268.02,392 Z" fill="#172b8e"/>
<path d="M273.03,325 L268.35,322.4 L268.35,327.6 Z" fill="#172b8e"/>
<path d="M274.36,334.07 L269.68,331.47 L269.68,336.67 Z" fill="#172b8e"/>
<path d="M276.03,337.82 L271.35,335.22 L271.35,340.42 Z" fill="#172b8e"/>
<path d="M279.36,345.01 L274.68,342.41 L274.68,347.61 Z" fill="#172b8e"/>
<path d="M282.68,350.01 L278,347.41 L278,352.61 Z" fill="#172b8e"/>
<path d="M286.01,353.45 L281.33,350.85 L281.33,356.05 Z" fill="#172b8e"/>
<path d="M289.34,355.95 L284.66,353.35 L284.66,358.55 Z" fill="#172b8e"/>
<path d="M292.67,357.83 L287.99,355.23 L287.99,360.43 Z" fill="#172b8e"/>
<path d="M296,359.39 L291.32,356.79 L291.32,361.99 Z" fill="#172b8e"/>
<path d="M299.32,360.48 L294.64,357.88 L294.64,363.08 Z" fill="#172b8e"/>
<path d="M302.65,361.58 L297.97,358.98 L297.97,364.18 Z" fill="#172b8e"/>
<path d="M305.98,362.52 L301.3,359.92 L301.3,365.12 Z" fill="#172b8e"/>
<path d="M322.62,365.64 L317.94,363.04 L317.94,368.24 Z" fill="#172b8e"/>
<path d="M339.26,367.67 L334.58,365.07 L334.58,370.27 Z" fill="#172b8e"/>
<path d="M355.9,369.11 L351.22,366.51 L351.22,371.71 Z" fill="#172b8e"/>
<path d="M372.54,370.21 L367.86,367.61 L367.86,372.81 Z" fill="#172b8e"/>
<path d="M389.18,370.99 L384.5,368.39 L384.5,373.59 Z" fill="#172b8e"/>
<path d="M405.82,371.58 L401.14,368.98 L401.14,374.18 Z" fill="#172b8e"/>
<path d="M422.46,372.14 L417.78,369.54 L417.78,374.74 Z" fill="#172b8e"/>
<path d="M439.1,372.61 L434.42,370.01 L434.42,375.21 Z" fill="#172b8e"/>
<path d="M270.1,389.4 L270.43,302.81 C270.88,306.14 271.32,310.17 271.76,312.81 C272.32,316.12 272.87,318.86 273.43,320.94 C274.54,325.11 275.65,327.88 276.76,330.63 C277.87,333.38 278.97,336.01 280.08,337.82 C281.19,339.63 282.3,340.98 283.41,342.2 C284.52,343.41 285.63,344.4 286.74,345.32 C287.85,346.25 288.96,347.05 290.07,347.82 C291.18,348.6 292.29,349.28 293.4,350.01 C294.51,350.74 295.61,351.67 296.72,352.2 C297.83,352.73 298.94,353.09 300.05,353.45 C301.16,353.81 302.27,354.09 303.38,354.39 C308.93,355.86 314.47,357.36 320.02,358.45 C325.57,359.55 331.11,360.35 336.66,361.2 C342.21,362.06 347.75,362.97 353.3,363.61 C358.85,364.25 364.39,364.75 369.94,365.2 C375.49,365.66 381.03,366.01 386.58,366.39 C392.13,366.78 397.67,367.2 403.22,367.52 C408.77,367.84 414.31,368.1 419.86,368.36 C425.41,368.63 430.95,368.86 436.5,369.11" fill="none" stroke="#9c1640" stroke-width="1.5" stroke-linejoin="round"/>
<path d="M268.6,387.9 L271.6,390.9 M268.6,390.9 L271.6,387.9" stroke="#9c1640" stroke-width="1.5" fill="none"/>
<path d="M268.93,301.31 L271.93,304.31 M268.93,304.31 L271.93,301.31" stroke="#9c1640" stroke-width="1.5" fill="none"/>
<path d="M270.26,311.31 L273.26,314.31 M270.26,314.31 L273.26,311.31" stroke="#9c1640" stroke-width="1.5" fill="none"/>
<path d="M271.93,319.44 L274.93,322.44 M271.93,322.44 L274.93,319.44" stroke="#9c1640" stroke-width="1.5" fill="none"/>
<path d="M275.26,329.13 L278.26,332.13 M275.26,332.13 L278.26,329.13" stroke="#9c1640" stroke-width="1.5" fill="none"/>
<path d="M278.58,336.32 L281.58,339.32 M278.58,339.32 L281.58,336.32" stroke="#9c1640" stroke-width="1.5" fill="none"/>
<path d="M281.91,340.7 L284.91,343.7 M281.91,343.7 L284.91,340.7" stroke="#9c1640" stroke-width="1.5" fill="none"/>
<path d="M285.24,343.82 L288.24,346.82 M285.24,346.82 L288.24,343.82" stroke="#9c1640" stroke-width="1.5" fill="none"/>
<path d="M288.57,346.32 L291.57,349.32 M288.57,349.32 L291.57,346.32" stroke="#9c1640" stroke-width="1.5" fill="none"/>
<path d="M291.9,348.51 L294.9,351.51 M291.9,351.51 L294.9,348.51" stroke="#9c1640" stroke-width="1.5" fill="none"/>
<path d="M295.22,350.7 L298.22,353.7 M295.22,353.7 L298.22,350.7" stroke="#9c1640" stroke-width="1.5" fill="none"/>
<path d="M298.55,351.95 L301.55,354.95 M298.55,354.95 L301.55,351.95" stroke="#9c1640" stroke-width="1.5" fill="none"/>
<path d="M301.88,352.89 L304.88,355.89 M301.88,355.89 L304.88,352.89" stroke="#9c1640" stroke-width="1.5" fill="none"/>
<path d="M318.52,356.95 L321.52,359.95 M318.52,359.95 L321.52,356.95" stroke="#9c1640" stroke-width="1.5" fill="none"/>
<path d="M335.16,359.7 L338.16,362.7 M335.16,362.7 L338.16,359.7" stroke="#9c1640" stroke-width="1.5" fill="none"/>
<path d="M351.8,362.11 L354.8,365.11 M351.8,365.11 L354.8,362.11" stroke="#9c1640" stroke-width="1.5" fill="none"/>
<path d="M368.44,363.7 L371.44,366.7 M368.44,366.7 L371.44,363.7" stroke="#9c1640" stroke-width="1.5" fill="none"/>
<path d="M385.08,364.89 L388.08,367.89 M385.08,367.89 L388.08,364.89" stroke="#9c1640" stroke-width="1.5" fill="none"/>
<path d="M401.72,366.02 L404.72,369.02 M401.72,369.02 L404.72,366.02" stroke="#9c1640" stroke-width="1.5" fill="none"/>
<path d="M418.36,366.86 L421.36,369.86 M418.36,369.86 L421.36,366.86" stroke="#9c1640" stroke-width="1.5" fill="none"/>
<path d="M435,367.61 L438,370.61 M435,370.61 L438,367.61" stroke="#9c1640" stroke-width="1.5" fill="none"/>
<text x="340.5" y="253.1" font-size="9.3" text-anchor="start">NpHR</text>
<text x="340.7" y="351.8" font-size="9.3" text-anchor="start">Jaws</text>
<text x="339.8" y="381.7" font-size="9.3" text-anchor="start">eNpHR 3.0</text>
<text x="292.73" y="423.2" font-size="13" textLength="126.98" lengthAdjust="spacingAndGlyphs">Irradiance (mW/mm<tspan font-size="10.1" dy="-7.0">2</tspan><tspan dy="7.0">)</tspan></text>
<text x="349.8" y="449.1" font-size="13" text-anchor="middle">(d)</text>
<text transform="translate(240.3,339.4) rotate(-90)" font-size="14" font-style="italic" text-anchor="start">t</text>
<text transform="translate(241.1,333.8) rotate(-90)" font-size="9.5" textLength="21.6" lengthAdjust="spacingAndGlyphs" text-anchor="start">peak</text>
<text transform="translate(240.3,308.1) rotate(-90)" font-size="14" textLength="28.8" lengthAdjust="spacingAndGlyphs" text-anchor="start">(ms)</text>
<path d="M45.9,627.2 V625.2 M45.9,466 V468" stroke="#000" stroke-width="1"/>
<path d="M77.72,627.2 V625.2 M77.72,466 V468" stroke="#000" stroke-width="1"/>
<path d="M109.54,627.2 V625.2 M109.54,466 V468" stroke="#000" stroke-width="1"/>
<path d="M141.36,627.2 V625.2 M141.36,466 V468" stroke="#000" stroke-width="1"/>
<path d="M173.18,627.2 V625.2 M173.18,466 V468" stroke="#000" stroke-width="1"/>
<path d="M205,627.2 V625.2 M205,466 V468" stroke="#000" stroke-width="1"/>
<path d="M45.9,627.2 H47.9 M205,627.2 H203" stroke="#000" stroke-width="1"/>
<path d="M45.9,586.9 H47.9 M205,586.9 H203" stroke="#000" stroke-width="1"/>
<path d="M45.9,546.6 H47.9 M205,546.6 H203" stroke="#000" stroke-width="1"/>
<path d="M45.9,506.3 H47.9 M205,506.3 H203" stroke="#000" stroke-width="1"/>
<path d="M45.9,466 H47.9 M205,466 H203" stroke="#000" stroke-width="1"/>
<text x="42" y="631.16" text-anchor="end" font-size="11">0</text>
<text x="42" y="590.86" text-anchor="end" font-size="11">10</text>
<text x="42" y="550.56" text-anchor="end" font-size="11">20</text>
<text x="42" y="510.26" text-anchor="end" font-size="11">30</text>
<text x="42" y="469.96" text-anchor="end" font-size="11">40</text>
<text x="45.9" y="642.2" text-anchor="middle" font-size="11">0</text>
<text x="77.72" y="642.2" text-anchor="middle" font-size="11">10</text>
<text x="109.54" y="642.2" text-anchor="middle" font-size="11">20</text>
<text x="141.36" y="642.2" text-anchor="middle" font-size="11">30</text>
<text x="173.18" y="642.2" text-anchor="middle" font-size="11">40</text>
<text x="205" y="642.2" text-anchor="middle" font-size="11">50</text>
<rect x="45.9" y="466" width="159.1" height="161.2" fill="none" stroke="#151515" stroke-width="1.7"/>
<path d="M46.22,492.6 L47.49,492.6 L49.08,492.6 L52.26,492.6 L55.45,492.6 L58.63,492.6 L61.81,492.6 L64.99,492.6 L68.17,492.6 L71.36,492.6 L74.54,492.6 L77.72,492.6 L93.63,492.6 L109.54,492.6 L125.45,492.6 L141.36,492.6 L157.27,492.6 L173.18,492.6 L189.09,492.6 L205,492.6" fill="none" stroke="#000" stroke-width="1.5" stroke-linejoin="round"/>
<circle cx="46.22" cy="492.6" r="2.2" fill="#000"/>
<circle cx="47.49" cy="492.6" r="2.2" fill="#000"/>
<circle cx="49.08" cy="492.6" r="2.2" fill="#000"/>
<circle cx="52.26" cy="492.6" r="2.2" fill="#000"/>
<circle cx="55.45" cy="492.6" r="2.2" fill="#000"/>
<circle cx="58.63" cy="492.6" r="2.2" fill="#000"/>
<circle cx="61.81" cy="492.6" r="2.2" fill="#000"/>
<circle cx="64.99" cy="492.6" r="2.2" fill="#000"/>
<circle cx="68.17" cy="492.6" r="2.2" fill="#000"/>
<circle cx="71.36" cy="492.6" r="2.2" fill="#000"/>
<circle cx="74.54" cy="492.6" r="2.2" fill="#000"/>
<circle cx="77.72" cy="492.6" r="2.2" fill="#000"/>
<circle cx="93.63" cy="492.6" r="2.2" fill="#000"/>
<circle cx="109.54" cy="492.6" r="2.2" fill="#000"/>
<circle cx="125.45" cy="492.6" r="2.2" fill="#000"/>
<circle cx="141.36" cy="492.6" r="2.2" fill="#000"/>
<circle cx="157.27" cy="492.6" r="2.2" fill="#000"/>
<circle cx="173.18" cy="492.6" r="2.2" fill="#000"/>
<circle cx="189.09" cy="492.6" r="2.2" fill="#000"/>
<circle cx="205" cy="492.6" r="2.2" fill="#000"/>
<path d="M46.22,536.73 C46.64,536.73 47.07,536.73 47.49,536.73 C48.02,536.73 48.55,536.81 49.08,536.85 C50.14,536.91 51.2,536.96 52.26,537.01 C53.32,537.05 54.39,537.09 55.45,537.13 C56.51,537.17 57.57,537.22 58.63,537.25 C59.69,537.28 60.75,537.3 61.81,537.33 C62.87,537.36 63.93,537.38 64.99,537.41 C66.05,537.44 67.11,537.49 68.17,537.53 C69.23,537.57 70.3,537.62 71.36,537.65 C72.42,537.69 73.48,537.71 74.54,537.73 C75.6,537.76 76.66,537.79 77.72,537.81 C83.02,537.94 88.33,538.07 93.63,538.14 C98.93,538.21 104.24,538.26 109.54,538.3 C114.84,538.33 120.15,538.35 125.45,538.38 C130.75,538.41 136.06,538.43 141.36,538.46 C146.66,538.49 151.97,538.54 157.27,538.54 C162.57,538.54 167.88,538.54 173.18,538.54 C178.48,538.54 183.79,538.59 189.09,538.62 C194.39,538.65 199.7,538.67 205,538.7" fill="none" stroke="#9c1640" stroke-width="1.5" stroke-linejoin="round"/>
<path d="M44.72,535.23 L47.72,538.23 M44.72,538.23 L47.72,535.23" stroke="#9c1640" stroke-width="1.5" fill="none"/>
<path d="M45.99,535.23 L48.99,538.23 M45.99,538.23 L48.99,535.23" stroke="#9c1640" stroke-width="1.5" fill="none"/>
<path d="M47.58,535.35 L50.58,538.35 M47.58,538.35 L50.58,535.35" stroke="#9c1640" stroke-width="1.5" fill="none"/>
<path d="M50.76,535.51 L53.76,538.51 M50.76,538.51 L53.76,535.51" stroke="#9c1640" stroke-width="1.5" fill="none"/>
<path d="M53.95,535.63 L56.95,538.63 M53.95,538.63 L56.95,535.63" stroke="#9c1640" stroke-width="1.5" fill="none"/>
<path d="M57.13,535.75 L60.13,538.75 M57.13,538.75 L60.13,535.75" stroke="#9c1640" stroke-width="1.5" fill="none"/>
<path d="M60.31,535.83 L63.31,538.83 M60.31,538.83 L63.31,535.83" stroke="#9c1640" stroke-width="1.5" fill="none"/>
<path d="M63.49,535.91 L66.49,538.91 M63.49,538.91 L66.49,535.91" stroke="#9c1640" stroke-width="1.5" fill="none"/>
<path d="M66.67,536.03 L69.67,539.03 M66.67,539.03 L69.67,536.03" stroke="#9c1640" stroke-width="1.5" fill="none"/>
<path d="M69.86,536.15 L72.86,539.15 M69.86,539.15 L72.86,536.15" stroke="#9c1640" stroke-width="1.5" fill="none"/>
<path d="M73.04,536.23 L76.04,539.23 M73.04,539.23 L76.04,536.23" stroke="#9c1640" stroke-width="1.5" fill="none"/>
<path d="M76.22,536.31 L79.22,539.31 M76.22,539.31 L79.22,536.31" stroke="#9c1640" stroke-width="1.5" fill="none"/>
<path d="M92.13,536.64 L95.13,539.64 M92.13,539.64 L95.13,536.64" stroke="#9c1640" stroke-width="1.5" fill="none"/>
<path d="M108.04,536.8 L111.04,539.8 M108.04,539.8 L111.04,536.8" stroke="#9c1640" stroke-width="1.5" fill="none"/>
<path d="M123.95,536.88 L126.95,539.88 M123.95,539.88 L126.95,536.88" stroke="#9c1640" stroke-width="1.5" fill="none"/>
<path d="M139.86,536.96 L142.86,539.96 M139.86,539.96 L142.86,536.96" stroke="#9c1640" stroke-width="1.5" fill="none"/>
<path d="M155.77,537.04 L158.77,540.04 M155.77,540.04 L158.77,537.04" stroke="#9c1640" stroke-width="1.5" fill="none"/>
<path d="M171.68,537.04 L174.68,540.04 M171.68,540.04 L174.68,537.04" stroke="#9c1640" stroke-width="1.5" fill="none"/>
<path d="M187.59,537.12 L190.59,540.12 M187.59,540.12 L190.59,537.12" stroke="#9c1640" stroke-width="1.5" fill="none"/>
<path d="M203.5,537.2 L206.5,540.2 M203.5,540.2 L206.5,537.2" stroke="#9c1640" stroke-width="1.5" fill="none"/>
<path d="M45.9,627.2 L46.22,564.74 C46.64,564.74 47.07,564.74 47.49,564.74 C48.02,564.74 48.55,564.79 49.08,564.82 C50.14,564.86 51.2,564.9 52.26,564.94 C53.32,564.98 54.39,565.03 55.45,565.06 C56.51,565.09 57.57,565.11 58.63,565.14 C59.69,565.16 60.75,565.19 61.81,565.22 C62.87,565.25 63.93,565.28 64.99,565.3 C66.05,565.32 67.11,565.33 68.17,565.34 C69.23,565.35 70.3,565.37 71.36,565.38 C72.42,565.39 73.48,565.41 74.54,565.42 C75.6,565.43 76.66,565.45 77.72,565.46 C83.02,565.52 88.33,565.58 93.63,565.62 C98.93,565.67 104.24,565.71 109.54,565.74 C114.84,565.77 120.15,565.81 125.45,565.82 C130.75,565.84 136.06,565.85 141.36,565.86 C146.66,565.88 151.97,565.94 157.27,565.94 C162.57,565.94 167.88,565.94 173.18,565.94 C178.48,565.94 183.79,565.94 189.09,565.94 C194.39,565.94 199.7,565.94 205,565.94" fill="none" stroke="#172b8e" stroke-width="1.5" stroke-linejoin="round"/>
<path d="M48.6,627.2 L43.74,624.5 L43.74,629.9 Z" fill="#172b8e"/>
<path d="M48.92,564.74 L44.06,562.03 L44.06,567.44 Z" fill="#172b8e"/>
<path d="M50.19,564.74 L45.33,562.03 L45.33,567.44 Z" fill="#172b8e"/>
<path d="M51.78,564.82 L46.92,562.12 L46.92,567.52 Z" fill="#172b8e"/>
<path d="M54.96,564.94 L50.1,562.24 L50.1,567.64 Z" fill="#172b8e"/>
<path d="M58.15,565.06 L53.29,562.36 L53.29,567.76 Z" fill="#172b8e"/>
<path d="M61.33,565.14 L56.47,562.44 L56.47,567.84 Z" fill="#172b8e"/>
<path d="M64.51,565.22 L59.65,562.52 L59.65,567.92 Z" fill="#172b8e"/>
<path d="M67.69,565.3 L62.83,562.6 L62.83,568 Z" fill="#172b8e"/>
<path d="M70.87,565.34 L66.01,562.64 L66.01,568.04 Z" fill="#172b8e"/>
<path d="M74.06,565.38 L69.2,562.68 L69.2,568.08 Z" fill="#172b8e"/>
<path d="M77.24,565.42 L72.38,562.72 L72.38,568.12 Z" fill="#172b8e"/>
<path d="M80.42,565.46 L75.56,562.76 L75.56,568.16 Z" fill="#172b8e"/>
<path d="M96.33,565.62 L91.47,562.92 L91.47,568.32 Z" fill="#172b8e"/>
<path d="M112.24,565.74 L107.38,563.04 L107.38,568.44 Z" fill="#172b8e"/>
<path d="M128.15,565.82 L123.29,563.12 L123.29,568.52 Z" fill="#172b8e"/>
<path d="M144.06,565.86 L139.2,563.16 L139.2,568.56 Z" fill="#172b8e"/>
<path d="M159.97,565.94 L155.11,563.24 L155.11,568.64 Z" fill="#172b8e"/>
<path d="M175.88,565.94 L171.02,563.24 L171.02,568.64 Z" fill="#172b8e"/>
<path d="M191.79,565.94 L186.93,563.24 L186.93,568.64 Z" fill="#172b8e"/>
<path d="M207.7,565.94 L202.84,563.24 L202.84,568.64 Z" fill="#172b8e"/>
<text x="122.9" y="483.9" font-size="9.3" text-anchor="start">NpHR</text>
<text x="123.3" y="529.7" font-size="9.3" text-anchor="start">Jaws</text>
<text x="123.6" y="585.2" font-size="9.3" text-anchor="start">eNpHR 3.0</text>
<text x="64.56" y="661.5" font-size="12.7" textLength="120.63" lengthAdjust="spacingAndGlyphs">Irradiance (mW/mm<tspan font-size="9.9" dy="-6.9">2</tspan><tspan dy="6.9">)</tspan></text>
<text x="114.8" y="684.6" font-size="13.5" text-anchor="middle">(e)</text>
<text transform="translate(15.9,564.5) rotate(-90)" font-size="13.5" font-style="italic" text-anchor="start">t</text>
<text transform="translate(16.8,559.2) rotate(-90)" font-size="9.5" textLength="10" lengthAdjust="spacingAndGlyphs" text-anchor="start">off</text>
<text transform="translate(15.9,543.6) rotate(-90)" font-size="13.5" textLength="26.2" lengthAdjust="spacingAndGlyphs" text-anchor="start">(ms)</text>
<path d="M272,626.9 V624.9 M272,465.4 V467.4" stroke="#000" stroke-width="1"/>
<path d="M305.14,626.9 V624.9 M305.14,465.4 V467.4" stroke="#000" stroke-width="1"/>
<path d="M338.28,626.9 V624.9 M338.28,465.4 V467.4" stroke="#000" stroke-width="1"/>
<path d="M371.42,626.9 V624.9 M371.42,465.4 V467.4" stroke="#000" stroke-width="1"/>
<path d="M404.56,626.9 V624.9 M404.56,465.4 V467.4" stroke="#000" stroke-width="1"/>
<path d="M437.7,626.9 V624.9 M437.7,465.4 V467.4" stroke="#000" stroke-width="1"/>
<path d="M272,626.9 H274 M437.7,626.9 H435.7" stroke="#000" stroke-width="1"/>
<path d="M272,586.52 H274 M437.7,586.52 H435.7" stroke="#000" stroke-width="1"/>
<path d="M272,546.15 H274 M437.7,546.15 H435.7" stroke="#000" stroke-width="1"/>
<path d="M272,505.77 H274 M437.7,505.77 H435.7" stroke="#000" stroke-width="1"/>
<path d="M272,465.4 H274 M437.7,465.4 H435.7" stroke="#000" stroke-width="1"/>
<text x="268" y="631.04" text-anchor="end" font-size="11.5">0</text>
<text x="268" y="590.66" text-anchor="end" font-size="11.5">5</text>
<text x="268" y="550.29" text-anchor="end" font-size="11.5">10</text>
<text x="268" y="509.91" text-anchor="end" font-size="11.5">15</text>
<text x="268" y="469.54" text-anchor="end" font-size="11.5">20</text>
<text x="272" y="642.8" text-anchor="middle" font-size="11.5">0</text>
<text x="305.14" y="642.8" text-anchor="middle" font-size="11.5">10</text>
<text x="338.28" y="642.8" text-anchor="middle" font-size="11.5">20</text>
<text x="371.42" y="642.8" text-anchor="middle" font-size="11.5">30</text>
<text x="404.56" y="642.8" text-anchor="middle" font-size="11.5">40</text>
<text x="437.7" y="642.8" text-anchor="middle" font-size="11.5">50</text>
<rect x="272" y="465.4" width="165.7" height="161.5" fill="none" stroke="#151515" stroke-width="1.7"/>
<path d="M272.33,507.07 L273.66,507.07 L275.31,507.07 L278.63,507.07 L281.94,507.07 L285.26,507.07 L288.57,507.07 L291.88,507.07 L295.2,507.07 L298.51,507.07 L301.83,507.07 L305.14,507.07 L321.71,507.07 L338.28,507.07 L354.85,507.07 L371.42,507.07 L387.99,507.07 L404.56,507.07 L421.13,507.07 L437.7,507.07" fill="none" stroke="#000" stroke-width="1.5" stroke-linejoin="round"/>
<circle cx="272.33" cy="507.07" r="2.2" fill="#000"/>
<circle cx="273.66" cy="507.07" r="2.2" fill="#000"/>
<circle cx="275.31" cy="507.07" r="2.2" fill="#000"/>
<circle cx="278.63" cy="507.07" r="2.2" fill="#000"/>
<circle cx="281.94" cy="507.07" r="2.2" fill="#000"/>
<circle cx="285.26" cy="507.07" r="2.2" fill="#000"/>
<circle cx="288.57" cy="507.07" r="2.2" fill="#000"/>
<circle cx="291.88" cy="507.07" r="2.2" fill="#000"/>
<circle cx="295.2" cy="507.07" r="2.2" fill="#000"/>
<circle cx="298.51" cy="507.07" r="2.2" fill="#000"/>
<circle cx="301.83" cy="507.07" r="2.2" fill="#000"/>
<circle cx="305.14" cy="507.07" r="2.2" fill="#000"/>
<circle cx="321.71" cy="507.07" r="2.2" fill="#000"/>
<circle cx="338.28" cy="507.07" r="2.2" fill="#000"/>
<circle cx="354.85" cy="507.07" r="2.2" fill="#000"/>
<circle cx="371.42" cy="507.07" r="2.2" fill="#000"/>
<circle cx="387.99" cy="507.07" r="2.2" fill="#000"/>
<circle cx="404.56" cy="507.07" r="2.2" fill="#000"/>
<circle cx="421.13" cy="507.07" r="2.2" fill="#000"/>
<circle cx="437.7" cy="507.07" r="2.2" fill="#000"/>
<path d="M272,626.9 L272.33,545.34 C272.77,545.4 273.22,545.45 273.66,545.5 C274.21,545.58 274.76,545.67 275.31,545.75 C276.42,545.89 277.52,546.05 278.63,546.15 C279.73,546.25 280.84,546.31 281.94,546.39 C283.05,546.47 284.15,546.57 285.26,546.63 C286.36,546.7 287.47,546.74 288.57,546.8 C289.67,546.85 290.78,546.9 291.88,546.96 C292.99,547.01 294.09,547.07 295.2,547.12 C296.3,547.17 297.41,547.24 298.51,547.28 C299.62,547.32 300.72,547.33 301.83,547.36 C302.93,547.39 304.04,547.42 305.14,547.44 C310.66,547.56 316.19,547.67 321.71,547.76 C327.23,547.86 332.76,547.94 338.28,548.01 C343.8,548.07 349.33,548.13 354.85,548.17 C360.37,548.2 365.9,548.22 371.42,548.25 C376.94,548.28 382.47,548.3 387.99,548.33 C393.51,548.36 399.04,548.38 404.56,548.41 C410.08,548.44 415.61,548.46 421.13,548.49 C426.65,548.52 432.18,548.55 437.7,548.57" fill="none" stroke="#172b8e" stroke-width="1.5" stroke-linejoin="round"/>
<path d="M274.8,626.9 L269.76,624.1 L269.76,629.7 Z" fill="#172b8e"/>
<path d="M275.13,545.34 L270.09,542.54 L270.09,548.14 Z" fill="#172b8e"/>
<path d="M276.46,545.5 L271.42,542.7 L271.42,548.3 Z" fill="#172b8e"/>
<path d="M278.11,545.75 L273.07,542.95 L273.07,548.55 Z" fill="#172b8e"/>
<path d="M281.43,546.15 L276.39,543.35 L276.39,548.95 Z" fill="#172b8e"/>
<path d="M284.74,546.39 L279.7,543.59 L279.7,549.19 Z" fill="#172b8e"/>
<path d="M288.06,546.63 L283.02,543.83 L283.02,549.43 Z" fill="#172b8e"/>
<path d="M291.37,546.8 L286.33,544 L286.33,549.6 Z" fill="#172b8e"/>
<path d="M294.68,546.96 L289.64,544.16 L289.64,549.76 Z" fill="#172b8e"/>
<path d="M298,547.12 L292.96,544.32 L292.96,549.92 Z" fill="#172b8e"/>
<path d="M301.31,547.28 L296.27,544.48 L296.27,550.08 Z" fill="#172b8e"/>
<path d="M304.63,547.36 L299.59,544.56 L299.59,550.16 Z" fill="#172b8e"/>
<path d="M307.94,547.44 L302.9,544.64 L302.9,550.24 Z" fill="#172b8e"/>
<path d="M324.51,547.76 L319.47,544.97 L319.47,550.56 Z" fill="#172b8e"/>
<path d="M341.08,548.01 L336.04,545.21 L336.04,550.81 Z" fill="#172b8e"/>
<path d="M357.65,548.17 L352.61,545.37 L352.61,550.97 Z" fill="#172b8e"/>
<path d="M374.22,548.25 L369.18,545.45 L369.18,551.05 Z" fill="#172b8e"/>
<path d="M390.79,548.33 L385.75,545.53 L385.75,551.13 Z" fill="#172b8e"/>
<path d="M407.36,548.41 L402.32,545.61 L402.32,551.21 Z" fill="#172b8e"/>
<path d="M423.93,548.49 L418.89,545.69 L418.89,551.29 Z" fill="#172b8e"/>
<path d="M440.5,548.57 L435.46,545.77 L435.46,551.37 Z" fill="#172b8e"/>
<path d="M272,626.9 L272.33,536.46 C272.77,536.41 273.22,536.36 273.66,536.3 C274.21,536.23 274.76,536.13 275.31,536.06 C276.42,535.91 277.52,535.79 278.63,535.65 C279.73,535.52 280.84,535.35 281.94,535.25 C283.05,535.15 284.15,535.07 285.26,535.01 C286.36,534.94 287.47,534.9 288.57,534.85 C289.67,534.79 290.78,534.72 291.88,534.68 C292.99,534.65 294.09,534.63 295.2,534.6 C296.3,534.58 297.41,534.55 298.51,534.52 C299.62,534.5 300.72,534.47 301.83,534.44 C302.93,534.41 304.04,534.38 305.14,534.36 C310.66,534.28 316.19,534.2 321.71,534.2 C327.23,534.2 332.76,534.24 338.28,534.28 C343.8,534.32 349.33,534.38 354.85,534.44 C360.37,534.51 365.9,534.59 371.42,534.68 C376.94,534.78 382.47,534.88 387.99,535.01 C393.51,535.14 399.04,535.32 404.56,535.49 C410.08,535.66 415.61,535.81 421.13,536.06 C426.65,536.3 432.18,536.76 437.7,537.11" fill="none" stroke="#9c1640" stroke-width="1.5" stroke-linejoin="round"/>
<path d="M270.5,625.4 L273.5,628.4 M270.5,628.4 L273.5,625.4" stroke="#9c1640" stroke-width="1.5" fill="none"/>
<path d="M270.83,534.96 L273.83,537.96 M270.83,537.96 L273.83,534.96" stroke="#9c1640" stroke-width="1.5" fill="none"/>
<path d="M272.16,534.8 L275.16,537.8 M272.16,537.8 L275.16,534.8" stroke="#9c1640" stroke-width="1.5" fill="none"/>
<path d="M273.81,534.56 L276.81,537.56 M273.81,537.56 L276.81,534.56" stroke="#9c1640" stroke-width="1.5" fill="none"/>
<path d="M277.13,534.15 L280.13,537.15 M277.13,537.15 L280.13,534.15" stroke="#9c1640" stroke-width="1.5" fill="none"/>
<path d="M280.44,533.75 L283.44,536.75 M280.44,536.75 L283.44,533.75" stroke="#9c1640" stroke-width="1.5" fill="none"/>
<path d="M283.76,533.51 L286.76,536.51 M283.76,536.51 L286.76,533.51" stroke="#9c1640" stroke-width="1.5" fill="none"/>
<path d="M287.07,533.35 L290.07,536.35 M287.07,536.35 L290.07,533.35" stroke="#9c1640" stroke-width="1.5" fill="none"/>
<path d="M290.38,533.18 L293.38,536.18 M290.38,536.18 L293.38,533.18" stroke="#9c1640" stroke-width="1.5" fill="none"/>
<path d="M293.7,533.1 L296.7,536.1 M293.7,536.1 L296.7,533.1" stroke="#9c1640" stroke-width="1.5" fill="none"/>
<path d="M297.01,533.02 L300.01,536.02 M297.01,536.02 L300.01,533.02" stroke="#9c1640" stroke-width="1.5" fill="none"/>
<path d="M300.33,532.94 L303.33,535.94 M300.33,535.94 L303.33,532.94" stroke="#9c1640" stroke-width="1.5" fill="none"/>
<path d="M303.64,532.86 L306.64,535.86 M303.64,535.86 L306.64,532.86" stroke="#9c1640" stroke-width="1.5" fill="none"/>
<path d="M320.21,532.7 L323.21,535.7 M320.21,535.7 L323.21,532.7" stroke="#9c1640" stroke-width="1.5" fill="none"/>
<path d="M336.78,532.78 L339.78,535.78 M336.78,535.78 L339.78,532.78" stroke="#9c1640" stroke-width="1.5" fill="none"/>
<path d="M353.35,532.94 L356.35,535.94 M353.35,535.94 L356.35,532.94" stroke="#9c1640" stroke-width="1.5" fill="none"/>
<path d="M369.92,533.18 L372.92,536.18 M369.92,536.18 L372.92,533.18" stroke="#9c1640" stroke-width="1.5" fill="none"/>
<path d="M386.49,533.51 L389.49,536.51 M386.49,536.51 L389.49,533.51" stroke="#9c1640" stroke-width="1.5" fill="none"/>
<path d="M403.06,533.99 L406.06,536.99 M403.06,536.99 L406.06,533.99" stroke="#9c1640" stroke-width="1.5" fill="none"/>
<path d="M419.63,534.56 L422.63,537.56 M419.63,537.56 L422.63,534.56" stroke="#9c1640" stroke-width="1.5" fill="none"/>
<path d="M436.2,535.61 L439.2,538.61 M436.2,538.61 L439.2,535.61" stroke="#9c1640" stroke-width="1.5" fill="none"/>
<text x="352.3" y="499.2" font-size="9.3" text-anchor="start">NpHR</text>
<text x="352.3" y="526.9" font-size="9.3" text-anchor="start">Jaws</text>
<text x="352.3" y="565.2" font-size="9.3" text-anchor="start">eNpHR 3.0</text>
<text x="291.83" y="661.8" font-size="13" textLength="125.98" lengthAdjust="spacingAndGlyphs">Irradiance (mW/mm<tspan font-size="10.1" dy="-7.0">2</tspan><tspan dy="7.0">)</tspan></text>
<text x="342.9" y="684.6" font-size="13.5" text-anchor="middle">(f)</text>
<text transform="translate(246.1,571.1) rotate(-90)" font-size="13.5" font-style="italic" text-anchor="start">t</text>
<text transform="translate(246.8,566.8) rotate(-90)" font-size="9.5" textLength="10" lengthAdjust="spacingAndGlyphs" text-anchor="start">off</text>
<text transform="translate(246.1,551.2) rotate(-90)" font-size="13.5" textLength="26" lengthAdjust="spacingAndGlyphs" text-anchor="start">(ms)</text>
</svg></body></html>
